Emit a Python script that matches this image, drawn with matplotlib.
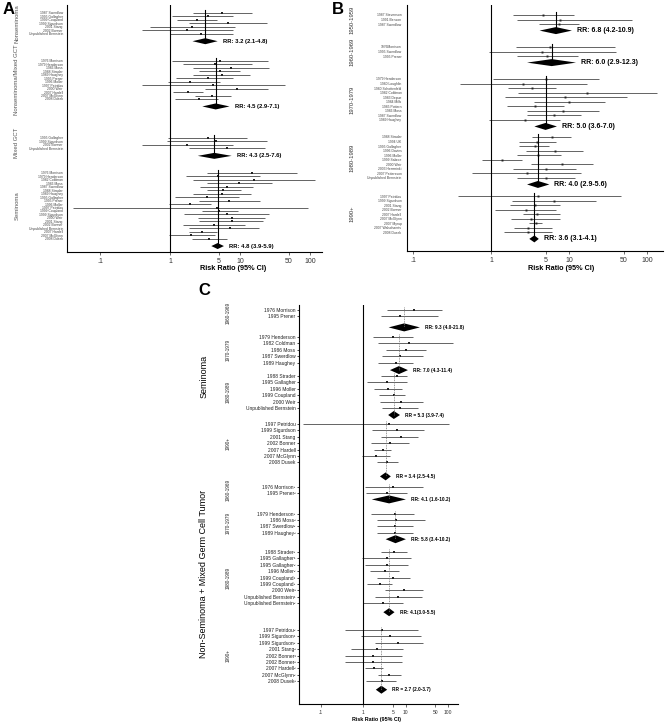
import matplotlib.pyplot as plt
from matplotlib.transforms import blended_transform_factory

plt.rcParams['font.family'] = ['Liberation Sans', 'DejaVu Sans']

# ---------------- Panel A : by histology ----------------
a_groups = ['Nonseminoma', 'Nonseminoma/Mixed GCT', 'Mixed GCT', 'Seminoma']
a_studies = [
    ['1987 Swerdlow', '1995 Gallagher', '1999 Coupland', '1999 Sigurdson',
     '2001 Stang', '2002 Bonner', 'Unpublished Bernstein'],
    ['1976 Morrison', '1979 Henderson', '1986 Moss', '1988 Strader', '1989 Haughey',
     '1995 Prener', '1996 Moller', '1997 Petridou', '2000 Weir', '2007 Hardell',
     '2007 McGlynn', '2008 Dusek'],
    ['1995 Gallagher', '1999 Sigurdson', '2002 Bonner', 'Unpublished Bernstein'],
    ['1976 Morrison', '1979 Henderson', '1982 Coldman', '1986 Moss', '1987 Swerdlow',
     '1988 Strader', '1989 Haughey', '1995 Gallagher', '1995 Prener', '1996 Moller',
     '1997 Petridou', '1999 Coupland', '1999 Sigurdson', '2000 Weir', '2001 Stang',
     '2002 Bonner', 'Unpublished Bernstein', '2007 Hardell', '2007 McGlynn', '2008 Dusek'],
]
a_rr = [
    [5.5, 3.5, 2.4, 6.7, 2.06, 1.75, 2.8],
    [5.2, 4.4, 7.4, 5.2, 5.5, 3.5, 1.93, 4.1, 9.1, 1.81, 4.0, 2.6],
    [3.5, 4.5, 1.75, 6.5],
    [14.8, 4.85, 15.8, 9.7, 6.5, 5.7, 5.5, 3.4, 7.0, 1.93, 4.7, 5.0, 6.5, 7.7, 7.7,
     4.25, 7.2, 2.87, 2.0, 3.6],
]
a_lo = [
    [2.13, 1.07, 1.26, 1.87, 0.52, 0.40, 1.0],
    [1.07, 1.53, 2.13, 2.6, 2.13, 1.22, 0.94, 0.40, 3.16, 1.10, 2.28, 1.18],
    [0.94, 0.91, 0.40, 1.87],
    [3.38, 1.69, 2.13, 3.38, 2.68, 3.38, 2.13, 1.18, 2.6, 0.97, 0.041, 2.87, 1.58,
     2.51, 2.6, 1.53, 1.87, 1.87, 0.97, 2.06],
]
a_hi = [
    [14.9, 7.9, 4.7, 24.0, 8.5, 8.0, 8.0],
    [25.1, 14.8, 26.0, 10.0, 13.9, 7.9, 5.2, 44.0, 25.1, 2.96, 7.4, 4.85],
    [12.6, 24.3, 7.9, 22.8],
    [65.0, 19.3, 118.0, 28.7, 15.3, 10.3, 14.4, 9.7, 19.3, 3.85, 94.0, 9.4, 26.0,
     22.8, 21.3, 11.8, 18.7, 4.7, 4.4, 6.5],
]
a_summary = [(3.2, 2.1, 4.8), (4.5, 2.9, 7.1), (4.3, 2.5, 7.6), (4.8, 3.9, 5.9)]

# ---------------- Panel B : by birth cohort ----------------
b_groups = ['1950-1959', '1960-1969', '1970-1979', '1980-1989', '1990+']
b_studies = [
    ['1987 Stevenson', '1991 Benson', '1987 Swerdlow'],
    ['1976Morrison', '1995 Swerdlow', '1995 Prener'],
    ['1979 Henderson', '1980 Loughlin', '1980 Schottenfeld', '1982 Coldman', '1983 Depue',
     '1984 Mills', '1985 Pottern', '1986 Moss', '1987 Swerdlow', '1989 Haughey'],
    ['1988 Strader', '1994 UK', '1995 Gallagher', '1996 Davies', '1996 Moller',
     '1999 Sabroe', '2000 Weir', '2003 Hemminki', '2007 Pettersson', 'Unpublished Bernstein'],
    ['1997 Petridou', '1999 Sigurdson', '2001 Stang', '2002 Bonner', '2007 Hardell',
     '2007 McGlynn', '2007 Myrup', '2007 Walschaerts', '2008 Dusek'],
]
b_rr = [
    [4.6, 7.7, 7.5],
    [5.7, 4.5, 5.2],
    [5.1, 2.6, 3.4, 17.0, 9.0, 10.0, 3.7, 8.4, 6.4, 2.7],
    [6.0, 3.9, 3.7, 6.6, 4.0, 1.38, 8.1, 5.0, 2.9, 5.0],
    [4.0, 6.4, 3.7, 2.8, 3.9, 3.3, 3.8, 3.0, 3.0],
]
b_lo = [
    [1.91, 2.15, 4.12],
    [2.09, 0.94, 2.15],
    [1.06, 0.40, 1.65, 2.22, 1.51, 3.56, 1.6, 2.89, 2.89, 0.94],
    [3.35, 2.29, 2.29, 2.81, 2.15, 0.77, 3.26, 1.91, 0.57, 2.15],
    [0.38, 1.86, 1.75, 1.13, 2.57, 1.80, 3.07, 1.97, 1.47],
]
b_hi = [
    [11.6, 64.0, 13.4],
    [38.9, 40.1, 13.0],
    [24.3, 17.0, 6.8, 134.0, 55.4, 28.9, 8.6, 24.3, 14.3, 7.7],
    [10.6, 6.8, 5.5, 15.1, 7.9, 2.5, 20.3, 12.3, 14.3, 11.9],
    [46.4, 22.2, 7.7, 6.8, 7.7, 7.7, 4.5, 6.05, 6.05],
]
b_summary = [(6.8, 4.2, 10.9), (6.0, 2.9, 12.3), (5.0, 3.6, 7.0), (4.0, 2.9, 5.6),
             (3.6, 3.1, 4.1)]

# ---------------- Panel C : histology x birth cohort ----------------
c_groups = ['1960-1969', '1970-1979', '1980-1989', '1990+',
            '1960-1969', '1970-1979', '1980-1989', '1990+']
c_super = ['Seminoma', 'Non-Seminoma + Mixed Germ Cell Tumor']
c_studies = [
    ['1976 Morrison', '1995 Prener'],
    ['1979 Henderson', '1982 Coldman', '1986 Moss', '1987 Swerdlow', '1989 Haughey'],
    ['1988 Strader', '1995 Gallagher', '1996 Moller', '1999 Coupland', '2000 Weir',
     'Unpublished Bernstein'],
    ['1997 Petridou', '1999 Sigurdson', '2001 Stang', '2002 Bonner', '2007 Hardell',
     '2007 McGlynn', '2008 Dusek'],
    ['1976 Morrison²', '1995 Prener²'],
    ['1979 Henderson²', '1986 Moss²', '1987 Swerdlow²', '1989 Haughey²'],
    ['1988 Strader²', '1995 Gallagher¹', '1995 Gallagher²', '1996 Moller²',
     '1999 Coupland¹', '1999 Coupland²', '2000 Weir²', 'Unpublished Bernstein¹',
     'Unpublished Bernstein²'],
    ['1997 Petridou²', '1999 Sigurdson¹', '1999 Sigurdson²', '2001 Stang²',
     '2002 Bonner¹', '2002 Bonner²', '2007 Hardell²', '2007 McGlynn²', '2008 Dusek²'],
]
c_rr = [
    [15.8, 7.4],
    [5.1, 12.0, 10.3, 7.4, 6.0],
    [6.3, 3.7, 3.9, 5.4, 7.8, 7.4],
    [4.0, 6.3, 7.8, 4.3, 2.96, 2.0, 3.7],
    [5.1, 3.7],
    [5.7, 6.0, 5.7, 5.7],
    [5.4, 3.7, 3.7, 3.3, 5.1, 2.5, 9.2, 6.7, 2.96],
    [2.8, 4.3, 6.7, 2.13, 1.72, 1.72, 1.81, 4.1, 2.8],
]
c_lo = [
    [3.67, 2.65],
    [1.72, 2.25, 3.48, 2.8, 2.25],
    [2.65, 1.24, 1.81, 2.38, 2.51, 2.8],
    [0.039, 1.63, 2.65, 1.54, 1.81, 0.95, 2.13],
    [1.11, 1.18],
    [1.54, 2.13, 2.13, 2.13],
    [2.65, 0.95, 1.11, 1.46, 2.13, 1.24, 3.29, 1.92, 1.0],
    [0.377, 0.90, 1.92, 0.52, 0.377, 0.377, 1.11, 2.25, 1.18],
]
c_hi = [
    [72.0, 58.0],
    [15.0, 131.0, 30.4, 25.8, 15.0],
    [10.8, 10.8, 8.3, 9.7, 25.8, 19.7],
    [106.0, 27.2, 19.7, 12.1, 4.56, 4.3, 6.7],
    [25.8, 10.8],
    [15.8, 28.8, 15.0, 15.0],
    [10.8, 13.5, 11.5, 7.0, 12.8, 4.8, 25.8, 24.5, 8.7],
    [19.7, 23.2, 25.8, 8.7, 8.3, 8.3, 2.96, 7.8, 6.0],
]
c_summary = [(9.3, 4.0, 21.8), (7.0, 4.3, 11.4), (5.3, 3.9, 7.4), (3.4, 2.5, 4.5),
             (4.1, 1.6, 10.2), (5.8, 3.4, 10.2), (4.1, 3.0, 5.5), (2.7, 2.0, 3.7)]
c_summary_text = ['RR: 9.3 (4.0-21.8)', 'RR: 7.0 (4.3-11.4)', 'RR = 5.3 (3.9-7.4)',
                  'RR = 3.4 (2.5-4.5)', 'RR: 4.1 (1.6-10.2)', 'RR: 5.8 (3.4-10.2)',
                  'RR: 4.1(3.0-5.5)', 'RR = 2.7 (2.0-3.7)']

xticks = [0.1, 1, 5, 10, 50, 100]
xticklabels = ['.1', '1', '5', '10', '50', '100']

W, H = 667, 727
fig = plt.figure(figsize=(W / 100, H / 100), dpi=100)


def box(l, t, r, b):
    return [l / W, 1 - b / H, (r - l) / W, (b - t) / H]


def forest(ax, studies, rr, lo, hi, summ, texts, starts, step, doffs, dh,
           ms, sum_line, lab_fs, rr_fs, lab_color):
    yt, yl, centers = [], [], []
    for g, names in enumerate(studies):
        ys = [starts[g] + i * step for i in range(len(names))]
        for y, p, l, h in zip(ys, rr[g], lo[g], hi[g]):
            ax.plot([l, h], [y, y], color='#4a4a4a', lw=0.6, solid_capstyle='butt')
            ax.plot(p, y, marker='s', ms=ms, color='#222222', mew=0)
        s, slo, shi = summ[g]
        yd = ys[-1] + doffs[g]
        ax.plot([s, s], [ys[0] - 3, yd], **sum_line)
        ax.fill([slo, s, shi, s], [yd, yd - dh, yd, yd + dh], color='black', lw=0)
        ax.annotate(texts[g], (shi, yd), xytext=(3.6, 0), textcoords='offset points',
                    va='center', ha='left', fontsize=rr_fs, fontweight='bold')
        yt += ys
        yl += names
        centers.append((ys[0] + ys[-1]) / 2)
    ax.set_yticks(yt, yl, fontsize=lab_fs, color=lab_color)
    return centers


def style_axes(ax, xlim, ylim, xfs, ytick_len, ypad):
    ax.set_xscale('log')
    ax.set_xlim(*xlim)
    ax.set_ylim(*ylim)
    ax.set_xticks(xticks, xticklabels)
    ax.minorticks_off()
    ax.axvline(1, color='black', lw=0.8)
    for side in ['top', 'right']:
        ax.spines[side].set_visible(False)
    for side in ['left', 'bottom']:
        ax.spines[side].set_linewidth(0.8)
    ax.tick_params(axis='x', length=2, width=0.5, labelsize=xfs, pad=2, colors='#333333')
    ax.tick_params(axis='y', length=ytick_len, width=0.5, pad=ypad)


def rr_label(s):
    return 'RR: %.1f (%.1f-%.1f)' % s


# ---- A ----
axA = fig.add_axes(box(67, 5, 322, 252))
cA = forest(axA, a_studies, a_rr, a_lo, a_hi, a_summary, [rr_label(s) for s in a_summary],
            [13, 61, 138, 173], 3.45, [7.5, 7.5, 7.5, 7.5], 3.0, 1.6,
            dict(color='black', lw=0.8), 2.4, 4.2, '#444444')
style_axes(axA, (0.034, 148), (252, 5), 5, 0, 3)
tA = blended_transform_factory(fig.transFigure, axA.transData)
for name, y in zip(a_groups, cA):
    axA.text(17 / W, y, name, transform=tA, rotation=90, ha='center', va='center',
             fontsize=4.3, color='#555555')
fig.text(233 / W, 1 - 269 / H, 'Risk Ratio (95% CI)', ha='center', va='center',
         fontsize=5.2, fontweight='bold')

# ---- B ----
axB = fig.add_axes(box(407, 5, 663, 251))
cB = forest(axB, b_studies, b_rr, b_lo, b_hi, b_summary, [rr_label(s) for s in b_summary],
            [15, 47, 79, 137, 196], 4.55, [6.5] * 5, 3.5, 1.4,
            dict(color='black', lw=0.8), 2.4, 5.0, '#444444')
style_axes(axB, (0.084, 160), (251, 5), 5, 0, 4)
tB = blended_transform_factory(fig.transFigure, axB.transData)
for name, y in zip(b_groups, cB):
    axB.text(352 / W, y, name, transform=tB, rotation=90, ha='center', va='center',
             fontsize=4.2, color='#333333')
fig.text(561 / W, 1 - 268.5 / H, 'Risk Ratio (95% CI)', ha='center', va='center',
         fontsize=5.2, fontweight='bold')

# ---- C ----
axC = fig.add_axes(box(299, 305, 458, 704))
cC = forest(axC, c_studies, c_rr, c_lo, c_hi, c_summary, c_summary_text,
            [310, 337, 376, 424, 487, 513.5, 552, 630], 6.4,
            [11, 7.5, 7, 14, 6, 6.5, 9, 8.5], 4.0, 1.5,
            dict(color='#777777', lw=0.6, ls=(0, (1, 1))), 3.5, 3.4, '#222222')
style_axes(axC, (0.031, 172), (704, 305), 3.6, 1.5, 1)
tC = blended_transform_factory(fig.transFigure, axC.transData)
for name, y in zip(c_groups, cC):
    axC.text(228 / W, y, name, transform=tC, rotation=90, ha='center', va='center',
             fontsize=3.3, color='#222222')
# the long histology label sits a little lower than the plain average
super_shift = [2, 12]
for k, name in enumerate(c_super):
    yc = sum(cC[4 * k:4 * k + 4]) / 4 + super_shift[k]
    axC.text(204 / W, yc, name, transform=tC, rotation=90, ha='center', va='center',
             fontsize=6.5)
fig.text(377 / W, 1 - 719.5 / H, 'Risk Ratio (95% CI)', ha='center', va='center',
         fontsize=3.9, fontweight='bold')

# panel letters
fig.text(9 / W, 1 - 10 / H, 'A', ha='center', va='center', fontsize=12, fontweight='bold')
fig.text(338 / W, 1 - 10 / H, 'B', ha='center', va='center', fontsize=12, fontweight='bold')
fig.text(204 / W, 1 - 290 / H, 'C', ha='center', va='center', fontsize=12, fontweight='bold')

fig.savefig('out.png', dpi=100)
